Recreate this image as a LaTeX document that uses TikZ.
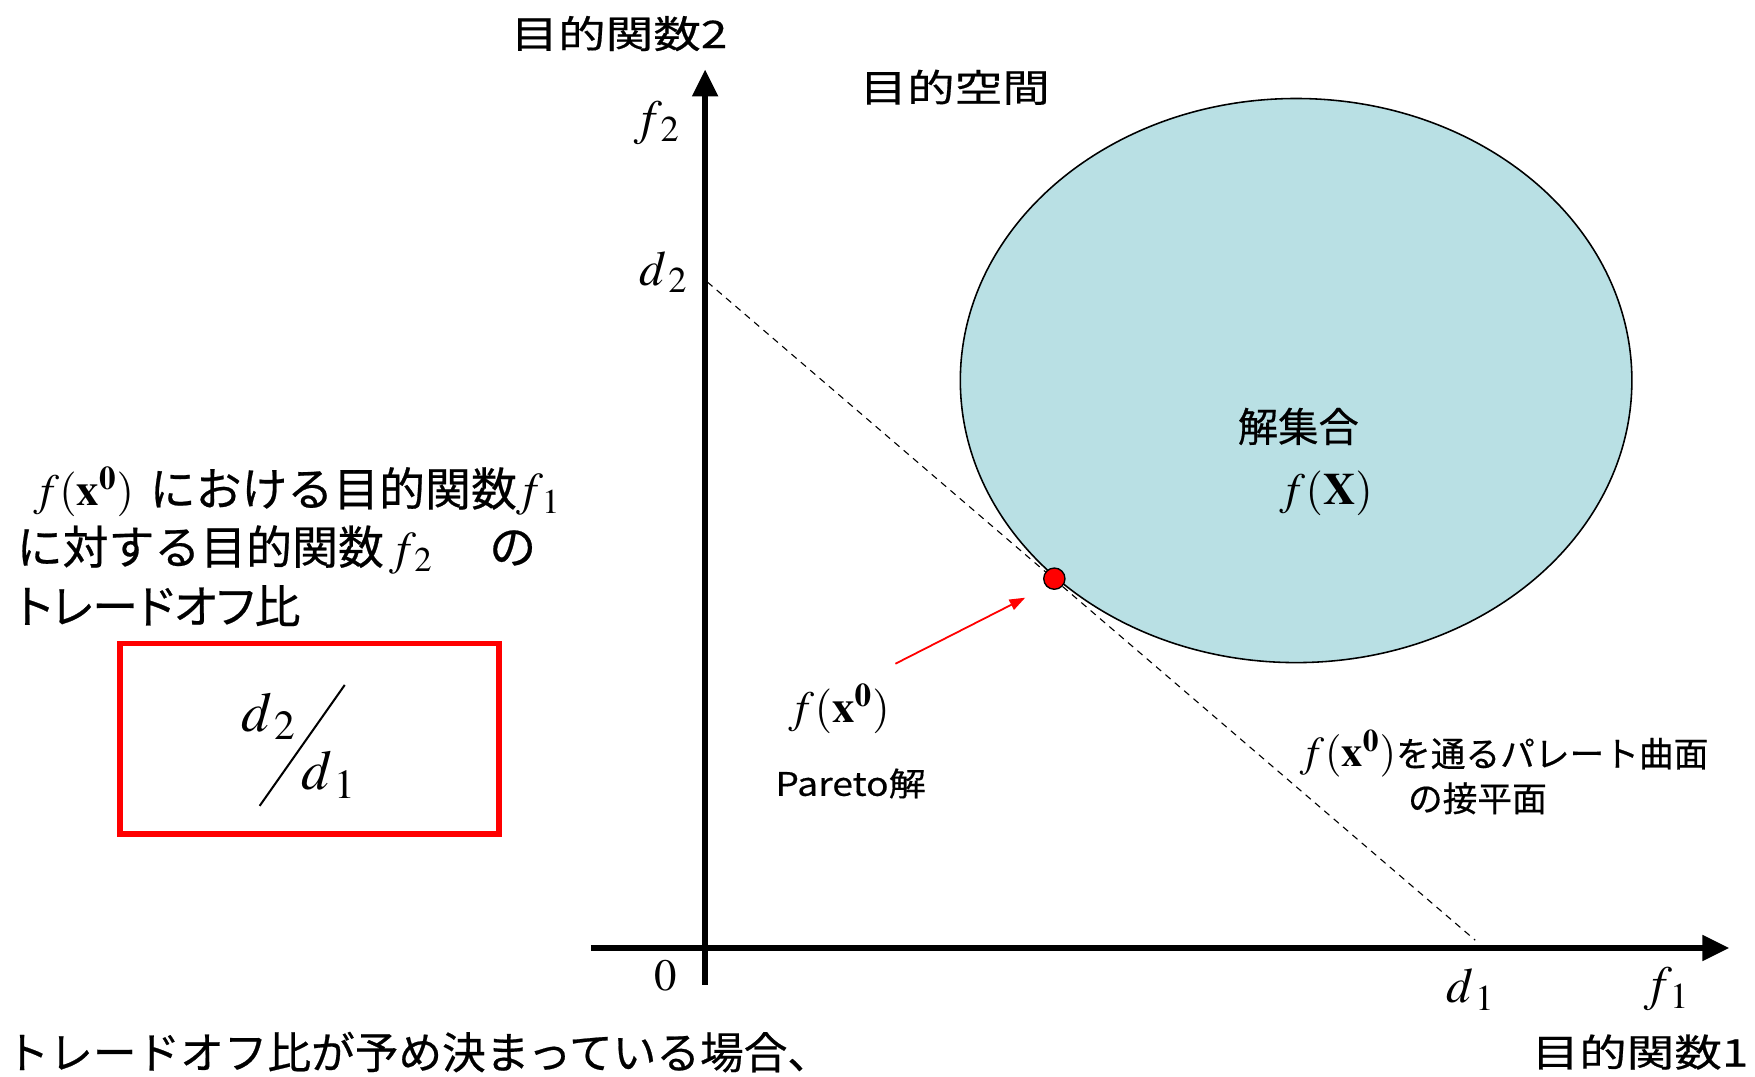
\documentclass[tikz,border=0pt]{standalone}
\usepackage{mathptmx}
\usepackage{fontspec}
\setmainfont{Liberation Serif}
\newfontfamily\jp[FakeBold=0.5]{Noto Sans CJK JP}
\newfontfamily\jpp[FakeBold=0.5,RawFeature=+palt]{Noto Sans CJK JP}
\newfontfamily\jpw[FakeStretch=1.25,FakeBold=0.5]{Noto Sans CJK JP}
\newfontfamily\jpm[FakeStretch=1.15,FakeBold=0.4]{Noto Sans CJK JP}
\usetikzlibrary{arrows.meta,shapes.geometric}
\definecolor{setfill}{RGB}{185,224,228}
\newcommand\fsz[1]{\fontsize{#1}{#1}\selectfont}
\newcommand\fxz{f(\mathbf{x}^{\mathbf{0}})}
\newcommand\sbs[1]{_{\mkern2mu#1}}
\begin{document}
\begin{tikzpicture}[x=0.5pt,y=-0.5pt,
  lbl/.style={inner sep=0pt,outer sep=0pt},
  axisline/.style={line width=2.6pt,-{Triangle[length=12pt,width=11pt]}},
  tangent/.style={line width=0.5pt,dash pattern=on 3pt off 2.5pt},
  pointer/.style={red,line width=0.8pt,-{Triangle[length=7pt,width=5pt]}},
  ratiobox/.style={draw=red,line width=2.6pt,minimum width=169.5pt,minimum height=85pt,inner sep=0pt}]
\useasboundingbox (0,0) rectangle (1568,962);

% solution set
\node[ellipse,draw,line width=0.7pt,fill=setfill,minimum width=300pt,minimum height=252pt,inner sep=0pt,outer sep=0pt] (set) at (1158,340) {};

% axes
\coordinate (ybot) at (630,880);
\coordinate (ytop) at (630,62);
\coordinate (xleft) at (528,847);
\coordinate (xright) at (1545,847);
\draw[axisline] (ybot) -- (ytop);
\draw[axisline] (xleft) -- (xright);

% tangent plane
\coordinate (d2pt) at (632,252);
\coordinate (d1pt) at (1318,840);
\draw[tangent] (d2pt) -- (d1pt);

% Pareto point
\node[circle,draw,line width=0.6pt,fill=red,minimum size=9.5pt,inner sep=0pt] (x0) at (942,517) {};
\coordinate (arrstart) at (800,593);
\coordinate (arrend) at (916,534);
\draw[pointer] (arrstart) -- (arrend);

% axis labels
\node[lbl] (f2) at (587,110) {\fsz{22}$f\sbs{2}$};
\node[lbl] (d2) at (593,243) {\fsz{22}$d\sbs{2}$};
\node[lbl] (zero) at (595,872) {\fsz{20}$0$};
\node[lbl] (d1) at (1314,884) {\fsz{22}$d\sbs{1}$};
\node[lbl] (f1) at (1489,884) {\fsz{22}$f\sbs{1}$};
\node[lbl] (ylab) at (553,30) {\jpw\fsz{17}目的関数2};
\node[lbl,anchor=east] (xlab) at (1562,940) {\jpw\fsz{17}目的関数1};
\node[lbl] (space) at (853,78) {\jpw\fsz{17}目的空間};

% set labels
\node[lbl] (setname) at (1160,381) {\jp\fsz{18}解集合};
\node[lbl] (fX) at (1185,441) {\fsz{20}$f(\mathbf{X})$};

% Pareto labels
\node[lbl] (fx0) at (750,633) {\fsz{20}$\fxz$};
\node[lbl] (pareto) at (760,700) {\jpm\fsz{14.5}Pareto解};

% tangent labels
\node[lbl,anchor=base west] (tanlab1) at (1162,685) {\fsz{19}$\fxz$\jp\fsz{15.5}を通るパレート曲面};
\node[lbl,anchor=base west] (tanlab2) at (1258,725) {\jp\fsz{15.5}の接平面};

% left explanation
\node[lbl,anchor=base west] (exp1) at (30,452) {\fsz{20}$\fxz$\hspace{0.35em}\jp\fsz{20.5}における目的関数\fsz{21}$f\sbs{1}$};
\node[lbl,anchor=base west] (exp2) at (15,504) {\jp\fsz{20.5}に対する目的関数\fsz{21}$\mkern2mu f\sbs{2}$\hspace{1.2em}の};
\node[lbl,anchor=base west] (exp3) at (15,557) {\jpp\fsz{20.5}トレードオフ比};

% ratio box
\node[ratiobox] (box) at (276.5,660) {};
\node[lbl] (bd2) at (240,640) {\fsz{25}$d\sbs{2}$};
\node[lbl] (bd1) at (294,692) {\fsz{25}$d\sbs{1}$};
\coordinate (slashlo) at (232,720);
\coordinate (slashhi) at (308,612);
\draw[line width=0.9pt] (slashlo) -- (slashhi);

% bottom caption
\node[lbl,anchor=west] (caption) at (5,940) {\jp\fsz{19.5}トレードオフ比が予め決まっている場合、};
\end{tikzpicture}
\end{document}
